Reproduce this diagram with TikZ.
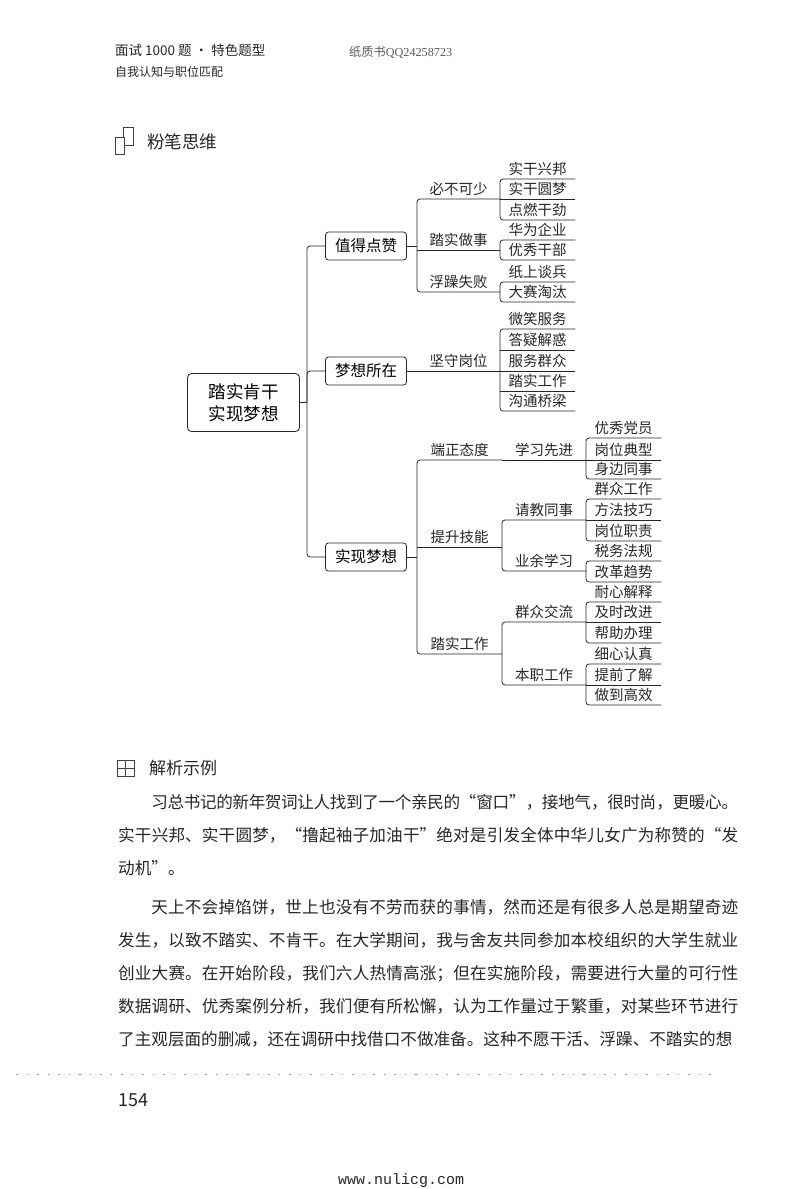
\documentclass[tikz,border=0pt]{standalone}
\usepackage{xcolor}
\usepackage{fontspec}
\setmainfont{Noto Sans CJK SC}
\newfontfamily\iSerifLatin{Liberation Serif}
\newfontfamily\iMonoLatin{Liberation Mono}
\XeTeXlinebreaklocale "zh"
\XeTeXlinebreakskip=0pt plus 3pt minus 1pt
\tikzset{
  tree/.style={line width=0.8pt, rounded corners=3pt, draw=black!85},
  bigbox/.style={draw=black!85, line width=0.8pt, rounded corners=4pt, minimum width=112pt, minimum height=58pt, inner sep=0pt, align=center, font=\fontsize{17.5}{22}\selectfont},
  midbox/.style={draw=black!85, line width=0.8pt, rounded corners=3pt, minimum width=81pt, minimum height=28pt, inner sep=0pt, font=\fontsize{15.5}{18}\selectfont},
  lab/.style={anchor=south west, inner sep=0pt, minimum height=19pt, text=black!85, font=\fontsize{14.5}{16}\selectfont},
  twigA/.style={lab, minimum width=83pt},
  twigB/.style={lab, minimum width=85pt},
  twigC/.style={lab, minimum width=84pt},
  leaf/.style={lab, minimum width=75pt},
  plain/.style={anchor=west, inner sep=0pt, text=black!85},
  bodytxt/.style={anchor=north west, inner sep=0pt, text width=620pt, align=justify, text=black!85, font=\fontsize{16.6}{33}\selectfont}
}
\begin{document}
\begin{tikzpicture}[x=1pt, y=-1pt]
\useasboundingbox (0,0) rectangle (800,1189);

%% cabecera %%%%%%%
\node[plain, font=\fontsize{13.5}{18}\selectfont] (head) at (115,50) {面试 1000 题 · 特色题型};
\node[plain, font=\fontsize{12}{14}\selectfont] (subhead) at (115,72) {自我认知与职位匹配};
\node[plain, text=black!65, font=\fontsize{12.2}{14}\selectfont] (qq) at (349,52) {纸质书{\iSerifLatin QQ24258723}};

%% titulo 1 %%%%%%%
\draw[line width=0.6pt, black!75] (123,137) -- (123,127) -- (133,127) -- (133,145) -- (124,145);
\draw[line width=0.6pt, black!75] (115,137) rectangle (124,154);
\node[plain, font=\fontsize{17.5}{20}\selectfont] (titleA) at (147,142) {粉笔思维};

%% cajas %%%%%%%
\node[bigbox] (root) at (243.5,402.5) {踏实肯干\\实现梦想};
\node[midbox] (zan) at (366,246) {值得点赞};
\node[midbox] (meng) at (366,371) {梦想所在};
\node[midbox] (shix) at (366,557) {实现梦想};

\coordinate (rootfork) at (307,402.5);
\coordinate (zanfork) at (417,246);
\coordinate (shixfork) at (417,557);
\draw[tree] (root.east) -- (rootfork);
\draw[tree] (rootfork) |- (zan.west);
\draw[tree] (rootfork) |- (meng.west);
\draw[tree] (rootfork) |- (shix.west);
\draw[tree] (zan.east) -- (zanfork);
\draw[tree] (shix.east) -- (shixfork);

%% rama de arriba %%%%%%%
\node[twigA] (bibu) at (417,199) {必不可少};
\node[twigA] (zuoshi) at (417,250) {踏实做事};
\node[twigA] (fuzao) at (417,292) {浮躁失败};
\node[twigA] (jianshou) at (417,371) {坚守岗位};
\node[leaf] (a1) at (500,179) {实干兴邦};
\node[leaf] (a2) at (500,199) {实干圆梦};
\node[leaf] (a3) at (500,220) {点燃干劲};
\node[leaf] (b1) at (500,240) {华为企业};
\node[leaf] (b2) at (500,260) {优秀干部};
\node[leaf] (c1) at (500,282) {纸上谈兵};
\node[leaf] (c2) at (500,302) {大赛淘汰};
\node[leaf] (d1) at (500,329) {微笑服务};
\node[leaf] (d2) at (500,350) {答疑解惑};
\node[leaf] (d3) at (500,371) {服务群众};
\node[leaf] (d4) at (500,391) {踏实工作};
\node[leaf] (d5) at (500,411) {沟通桥梁};

\draw[tree] (bibu.south east) -- (bibu.south west) -- (fuzao.south west) -- (fuzao.south east);
\draw[tree] (zuoshi.south west) -- (zuoshi.south east);
\draw[tree] (meng.east) -- (jianshou.south east);
\draw[tree] (a1.south east) -- (a1.south west) -- (a3.south west) -- (a3.south east);
\draw[tree] (b1.south east) -- (b1.south west) -- (b2.south west) -- (b2.south east);
\draw[tree] (c1.south east) -- (c1.south west) -- (c2.south west) -- (c2.south east);
\draw[tree] (d1.south east) -- (d1.south west) -- (d5.south west) -- (d5.south east);
\foreach \iA in {a2,d2,d3,d4}{
\draw[tree] (\iA.south west) -- (\iA.south east);
}

%% rama de abajo %%%%%%%
\node[twigB] (duan) at (417,460) {端正态度};
\node[twigB] (tisheng) at (417,547) {提升技能};
\node[twigB] (tashi) at (417,654) {踏实工作};
\node[twigC] (xuexi) at (502,460) {学习先进};
\node[twigC] (qingjiao) at (502,520) {请教同事};
\node[twigC] (yeyu) at (502,571) {业余学习};
\node[twigC] (qunzhong) at (502,622) {群众交流};
\node[twigC] (benzhi) at (502,685) {本职工作};
\node[leaf] (e1) at (586,438) {优秀党员};
\node[leaf] (e2) at (586,460) {岗位典型};
\node[leaf] (e3) at (586,479) {身边同事};
\node[leaf] (f1) at (586,499) {群众工作};
\node[leaf] (f2) at (586,520) {方法技巧};
\node[leaf] (f3) at (586,541) {岗位职责};
\node[leaf] (g1) at (586,561) {税务法规};
\node[leaf] (g2) at (586,582) {改革趋势};
\node[leaf] (h1) at (586,602) {耐心解释};
\node[leaf] (h2) at (586,622) {及时改进};
\node[leaf] (h3) at (586,643) {帮助办理};
\node[leaf] (i1) at (586,664) {细心认真};
\node[leaf] (i2) at (586,685) {提前了解};
\node[leaf] (i3) at (586,705) {做到高效};

\draw[tree] (duan.south east) -- (duan.south west) -- (tashi.south west) -- (tashi.south east);
\draw[tree] (tisheng.south west) -- (tisheng.south east);
\draw[tree] (xuexi.south west) -- (xuexi.south east);
\draw[tree] (qingjiao.south east) -- (qingjiao.south west) -- (yeyu.south west) -- (yeyu.south east);
\draw[tree] (qunzhong.south east) -- (qunzhong.south west) -- (benzhi.south west) -- (benzhi.south east);
\draw[tree] (e1.south east) -- (e1.south west) -- (e3.south west) -- (e3.south east);
\draw[tree] (f1.south east) -- (f1.south west) -- (f3.south west) -- (f3.south east);
\draw[tree] (g1.south east) -- (g1.south west) -- (g2.south west) -- (g2.south east);
\draw[tree] (h1.south east) -- (h1.south west) -- (h3.south west) -- (h3.south east);
\draw[tree] (i1.south east) -- (i1.south west) -- (i3.south west) -- (i3.south east);
\foreach \iA in {e2,f2,h2,i2}{
\draw[tree] (\iA.south west) -- (\iA.south east);
}

%% titulo 2 y texto %%%%%%%
\draw[line width=0.7pt, black!75] (117,760) rectangle (134,776);
\draw[line width=0.5pt, black!75] (125.5,760) -- (125.5,776);
\draw[line width=0.5pt, black!75] (117,768) -- (134,768);
\node[plain, font=\fontsize{17}{20}\selectfont] (titleB) at (149,768) {解析示例};

\node[bodytxt] (parA) at (118,794) {\hspace*{2em}习总书记的新年贺词让人找到了一个亲民的“窗口”，接地气，很时尚，更暖心。\linebreak 实干兴邦、实干圆梦，“撸起袖子加油干”绝对是引发全体中华儿女广为称赞的“发\linebreak 动机”。};
\node[bodytxt] (parB) at (118,899) {\hspace*{2em}天上不会掉馅饼，世上也没有不劳而获的事情，然而还是有很多人总是期望奇迹\linebreak 发生，以致不踏实、不肯干。在大学期间，我与舍友共同参加本校组织的大学生就业\linebreak 创业大赛。在开始阶段，我们六人热情高涨；但在实施阶段，需要进行大量的可行性\linebreak 数据调研、优秀案例分析，我们便有所松懈，认为工作量过于繁重，对某些环节进行\linebreak 了主观层面的删减，还在调研中找借口不做准备。这种不愿干活、浮躁、不踏实的想};

%% restos del escaneo %%%%%%%
\draw[line width=1pt, black!40, dash pattern=on 1.5pt off 9pt] (16,1074) -- (715,1074);

\node[plain, font=\fontsize{18}{20}\selectfont] (pagenum) at (118,1100) {154};
\node[plain, font=\fontsize{15}{18}\iMonoLatin\selectfont] (web) at (338,1181) {www.nulicg.com};
\end{tikzpicture}
\end{document}
